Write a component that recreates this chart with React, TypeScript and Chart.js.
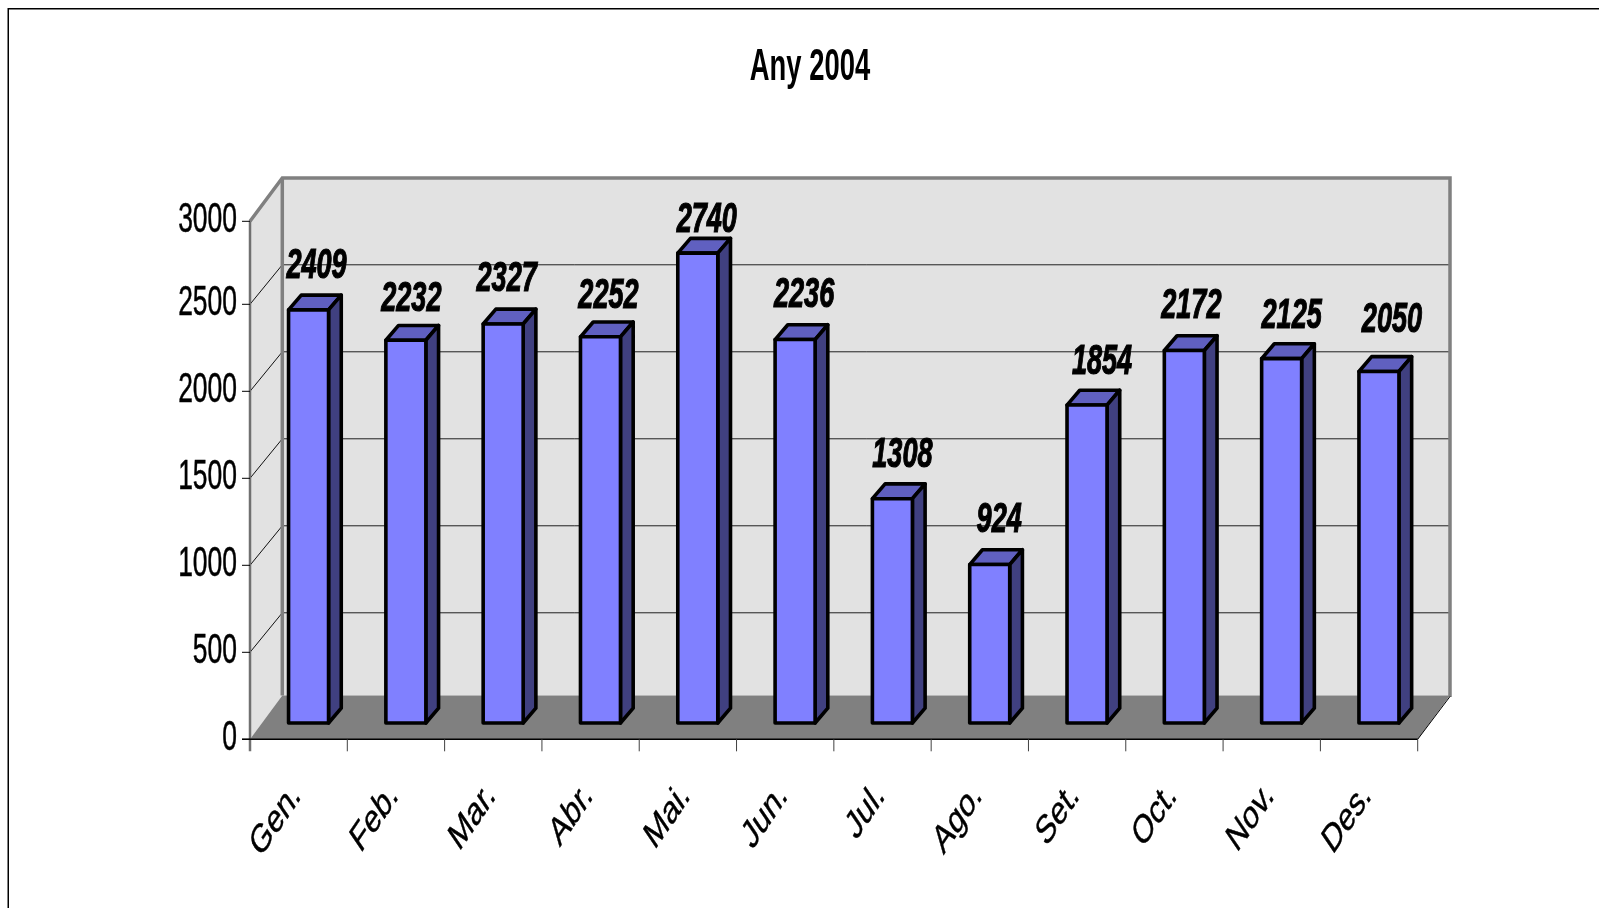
import React, { useEffect, useRef } from "react";
import { Chart, registerables } from "chart.js";

Chart.register(...registerables);

const TITLE = "Any 2004";
const MONTHS = ["Gen.", "Feb.", "Mar.", "Abr.", "Mai.", "Jun.", "Jul.", "Ago.", "Set.", "Oct.", "Nov.", "Des."];
const VISITS = [2409, 2232, 2327, 2252, 2740, 2236, 1308, 924, 1854, 2172, 2125, 2050];
const AXIS_MAX = 3000;
const AXIS_STEP = 500;

// Layout of the fake 3D box, separate from the data
const FONT = '"Liberation Sans", Arial, sans-serif';
const SX = 0.63;
const WALL_DX = 32.3;
const GRID_DY = 39.5;
const TOP_FRONT_Y = 221.3;
const BACK_TOP_Y = 178;
const BACK_FLOOR_Y = 695.5;
const BAR_SHIFT_X = 9.9;
const BAR_SHIFT_Y = -16.3;
const DEPTH_X = 12.7;
const DEPTH_Y = 14.8;
const LABEL_LIFT = [47, 44, 48, 44, 36, 48, 47, 48, 46, 48, 46, 54];
const LABEL_NUDGE = [8, 5.5, 3.5, 8, 9, 9, 10, 9.5, 15, 7, 10, 13];

function stretched(ctx: any, text: string, x: number, y: number, font: string, align: CanvasTextAlign, heavy = 0) {
  ctx.save();
  ctx.translate(x, y);
  ctx.scale(SX, 1);
  ctx.font = font;
  ctx.textAlign = align;
  ctx.textBaseline = "alphabetic";
  ctx.fillStyle = "#000";
  ctx.fillText(text, 0, 0);
  if (heavy) {
    ctx.strokeStyle = "#000";
    ctx.lineWidth = heavy;
    ctx.strokeText(text, 0, 0);
  }
  ctx.restore();
}

function line(ctx: any, x1: number, y1: number, x2: number, y2: number, color: string, width: number) {
  ctx.strokeStyle = color;
  ctx.lineWidth = width;
  ctx.beginPath();
  ctx.moveTo(x1, y1);
  ctx.lineTo(x2, y2);
  ctx.stroke();
}

function poly(ctx: any, pts: number[][], fill: string) {
  ctx.beginPath();
  pts.forEach((p, i) => (i ? ctx.lineTo(p[0], p[1]) : ctx.moveTo(p[0], p[1])));
  ctx.closePath();
  ctx.fillStyle = fill;
  ctx.fill();
}

const box3d = {
  id: "box3d",
  beforeDatasetsDraw(chart: any) {
    const { ctx, chartArea: a, scales } = chart;
    const y = scales.y;
    const L = a.left, R = a.right, B = a.bottom;
    const bl = L + WALL_DX, br = R + WALL_DX;
    ctx.save();
    ctx.lineCap = "butt";
    // walls
    poly(ctx, [[bl, BACK_TOP_Y], [br, BACK_TOP_Y], [br, BACK_FLOOR_Y], [bl, BACK_FLOOR_Y]], "#E2E2E2");
    poly(ctx, [[L, TOP_FRONT_Y], [bl, BACK_TOP_Y], [bl, BACK_FLOOR_Y], [L, B]], "#E2E2E2");
    // gridlines on back and side wall
    y.ticks.forEach((t: any) => {
      if (t.value === 0 || t.value === AXIS_MAX) return;
      const p = y.getPixelForValue(t.value);
      line(ctx, L, p, bl, p - GRID_DY, "#101010", 1);
      line(ctx, bl, p - GRID_DY, br, p - GRID_DY, "#202020", 1);
    });
    // floor
    poly(ctx, [[L, B], [bl, BACK_FLOOR_Y], [br, BACK_FLOOR_Y], [R, B]], "#808080");
    // wall edges
    ctx.lineJoin = "miter";
    ctx.strokeStyle = "#808080";
    ctx.lineWidth = 3.5;
    ctx.beginPath();
    ctx.moveTo(L, TOP_FRONT_Y);
    ctx.lineTo(bl, BACK_TOP_Y);
    ctx.lineTo(br, BACK_TOP_Y);
    ctx.lineTo(br, BACK_FLOOR_Y + 1.5);
    ctx.stroke();
    line(ctx, bl, BACK_TOP_Y, bl, BACK_FLOOR_Y, "#808080", 3.5);
    line(ctx, L, TOP_FRONT_Y, L, B + 12, "#707070", 2.5);
    // axis lines and ticks
    line(ctx, L - 8, B, R, B, "#000", 1.5);
    line(ctx, R, B, br, BACK_FLOOR_Y + 1, "#000", 1);
    y.ticks.forEach((t: any) => {
      const p = Math.max(y.getPixelForValue(t.value), TOP_FRONT_Y);
      line(ctx, L - 8, p, L, p, "#000", 1);
      stretched(ctx, String(t.value), 237, p + 11, `42px ${FONT}`, "right", 0.5);
    });
    const x = scales.x;
    const half = x.width / MONTHS.length / 2;
    MONTHS.forEach((_, i) => {
      const c = x.getPixelForValue(i);
      line(ctx, c + half, B, c + half, B + 12, "#404040", 1);
    });
    ctx.restore();
  },
  beforeDatasetDraw(chart: any) {
    chart.ctx.save();
    chart.ctx.translate(BAR_SHIFT_X, BAR_SHIFT_Y);
  },
  afterDatasetDraw(chart: any, args: any) {
    const ctx = chart.ctx;
    ctx.lineJoin = "round";
    chart.getDatasetMeta(args.index).data.forEach((b: any) => {
      const l = b.x - b.width / 2, r = b.x + b.width / 2;
      const top = [[l, b.y], [l + DEPTH_X, b.y - DEPTH_Y], [r + DEPTH_X, b.y - DEPTH_Y], [r, b.y]];
      const side = [[r, b.y], [r + DEPTH_X, b.y - DEPTH_Y], [r + DEPTH_X, b.base - DEPTH_Y], [r, b.base]];
      const front = [[l, b.y], [r, b.y], [r, b.base], [l, b.base]];
      ctx.strokeStyle = "#000";
      ctx.lineWidth = 3.6;
      poly(ctx, top, "#6060C0");
      ctx.stroke();
      poly(ctx, side, "#404080");
      ctx.stroke();
      poly(ctx, front, "#8080FF");
      ctx.stroke();
    });
    ctx.restore();
  },
  afterDraw(chart: any) {
    const { ctx, chartArea: a, scales } = chart;
    ctx.save();
    // frame of the original picture, top and left only are in view
    ctx.fillStyle = "#000";
    ctx.fillRect(8, 8, chart.width - 8, 1.5);
    ctx.fillRect(7.5, 8, 1.5, chart.height - 8);
    stretched(ctx, TITLE, 810, 80, `bold 43.5px ${FONT}`, "center");
    const meta = chart.getDatasetMeta(0);
    VISITS.forEach((v, i) => {
      const b = meta.data[i];
      stretched(
        ctx,
        String(v),
        b.x + BAR_SHIFT_X + LABEL_NUDGE[i],
        b.y + BAR_SHIFT_Y - LABEL_LIFT[i] + 15,
        `italic bold 43px ${FONT}`,
        "center",
        1.2,
      );
    });
    MONTHS.forEach((m, i) => {
      const cx = scales.x.getPixelForValue(i);
      ctx.save();
      ctx.translate(cx - 2, a.bottom + 50);
      ctx.scale(0.68, 1);
      ctx.rotate(-Math.PI / 4);
      ctx.font = `40px ${FONT}`;
      ctx.textAlign = "right";
      ctx.textBaseline = "middle";
      ctx.fillStyle = "#000";
      ctx.fillText(m, 0, 0);
      ctx.strokeStyle = "#000";
      ctx.lineWidth = 0.5;
      ctx.strokeText(m, 0, 0);
      ctx.restore();
    });
    ctx.restore();
  },
};

export default function App() {
  const ref = useRef<HTMLCanvasElement | null>(null);
  useEffect(() => {
    const chart = new Chart(ref.current as HTMLCanvasElement, {
      type: "bar",
      data: {
        labels: MONTHS,
        datasets: [
          {
            label: TITLE,
            data: VISITS,
            yAxisID: "yBars",
            backgroundColor: "#8080FF",
            borderWidth: 0,
            barThickness: 40,
            clip: false,
          } as any,
        ],
      },
      options: {
        responsive: false,
        animation: false,
        layout: { padding: { left: 250, right: 181.3, top: 217.3, bottom: 168.7 } },
        plugins: { legend: { display: false }, title: { display: false }, tooltip: { enabled: false } },
        scales: {
          x: {
            grid: { display: false },
            border: { display: false },
            ticks: { display: false },
            afterFit: (s: any) => { s.height = 0; },
          },
          y: {
            min: 0,
            max: AXIS_MAX,
            grid: { display: false },
            border: { display: false },
            ticks: { display: false, stepSize: AXIS_STEP },
            afterFit: (s: any) => { s.width = 0; },
          },
          // the bars stand a little deeper in the box, where the value scale is slightly compressed
          yBars: { display: false, min: 0, max: 3044 },
        },
      },
      plugins: [box3d],
    } as any);
    return () => chart.destroy();
  }, []);
  return (
    <div style={{ position: "absolute", left: 0, top: 0, width: 1599, height: 908, overflow: "hidden", background: "#fff" }}>
      <canvas ref={ref} width={1599} height={908} style={{ display: "block" }} />
    </div>
  );
}
